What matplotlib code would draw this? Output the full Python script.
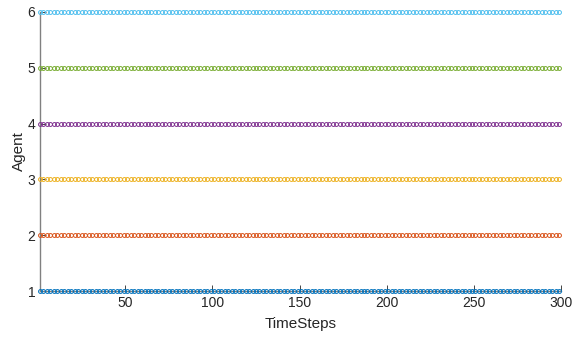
import numpy as np
import matplotlib
matplotlib.use('Agg')
import matplotlib.pyplot as plt

plt.rcParams['font.family'] = ['Liberation Sans', 'DejaVu Sans']

# data: agent index held constant over the time steps (marker every 2 steps)
timesteps = np.arange(1, 301, 2)
agents = [1, 2, 3, 4, 5, 6]
agent_colors = ['#0072BD', '#D95319', '#EDB120', '#7E2F8E', '#77AC30', '#4DBEEE']
x_ticks = [50, 100, 150, 200, 250, 300]
y_ticks = [1, 2, 3, 4, 5, 6]

fig = plt.figure(figsize=(5.73, 3.38), dpi=100)
ax = fig.add_axes([0.0698, 0.139, 0.909, 0.8255])

for a, c in zip(agents, agent_colors):
    ax.plot(timesteps, np.full(len(timesteps), a), 'o', color=c,
            markersize=2.8, markerfacecolor='none', markeredgewidth=0.7,
            clip_on=False, zorder=3)

ax.set_xlim(1, 300)
ax.set_ylim(1, 6)
ax.set_xticks(x_ticks)
ax.set_yticks(y_ticks)

for s in ['top', 'right']:
    ax.spines[s].set_visible(False)
for s in ['left', 'bottom']:
    ax.spines[s].set_color('#808080')
    ax.spines[s].set_linewidth(1.0)

ax.tick_params(direction='in', length=4, colors='#262626', labelsize=10,
               width=0.6)

ax.set_xlabel('TimeSteps', fontsize=11, color='#262626', labelpad=5)
ax.set_ylabel('Agent', fontsize=11, color='#262626', labelpad=1)

fig.savefig('out.png', dpi=100)
